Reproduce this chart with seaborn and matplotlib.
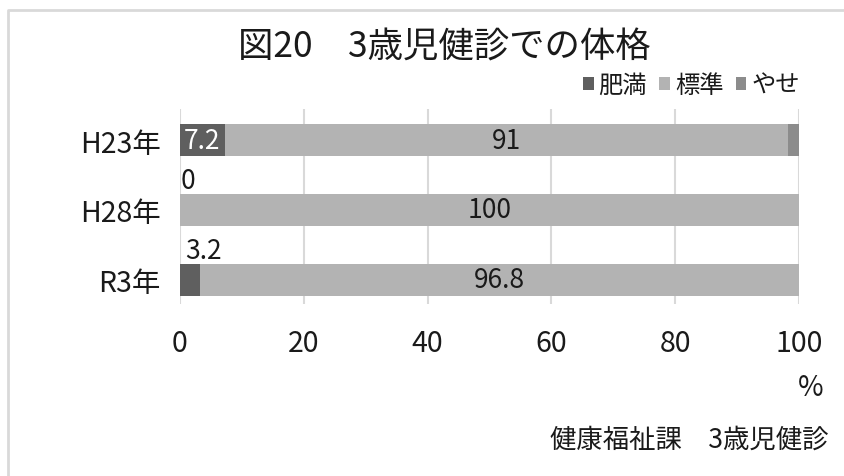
import numpy as np
import pandas as pd
import matplotlib
matplotlib.use("Agg")
import matplotlib.pyplot as plt
from matplotlib.lines import Line2D
from matplotlib.patches import Patch
import seaborn as sns

# Data
categories = ["H23年", "H28年", "R3年"]
series_names = ["肥満", "標準", "やせ"]
obese = [7.2, 0, 3.2]
normal = [91, 100, 96.8]
thin = [1.8, 0, 0]
colors = ["#5f5f5f", "#b3b3b3", "#8c8c8c"]
xticks = [0, 20, 40, 60, 80, 100]

title = "図20　3歳児健診での体格"
source = "健康福祉課　3歳児健診"

sns.set_theme(style="white")
plt.rcParams["font.family"] = ["Noto Sans CJK JP", "DejaVu Sans"]

W, H = 845, 477
fig = plt.figure(figsize=(W / 100, H / 100), dpi=100)

# Plot area in pixel coordinates
left_px, right_px, top_px, bottom_px = 180, 799, 110, 305
ax = fig.add_axes([left_px / W, 1 - bottom_px / H,
                   (right_px - left_px) / W, (bottom_px - top_px) / H])

df = pd.DataFrame({"cat": categories, "obese": obese,
                   "normal": normal, "thin": thin})
df["c1"] = df["obese"]
df["c2"] = df["obese"] + df["normal"]
df["c3"] = df["c2"] + df["thin"]

bar_h = 0.457
# Stacked bars drawn as overlapping cumulative totals, widest first
for col, c in [("c3", colors[2]), ("c2", colors[1]), ("c1", colors[0])]:
    sns.barplot(data=df, x=col, y="cat", orient="h", color=c,
                width=bar_h, linewidth=0, saturation=1, ax=ax, zorder=3)

ax.set_xlim(0, 100)
ax.set_ylim(2.343, -0.443)
ax.set_xticks(xticks)
ax.set_xticklabels([str(t) for t in xticks])
ax.set_xlabel("")
ax.set_ylabel("")
for s in ax.spines.values():
    s.set_visible(False)
ax.grid(axis="x", color="#d9d9d9", linewidth=1.5, zorder=0)
ax.grid(axis="y", visible=False)
ax.tick_params(axis="x", length=0, pad=17, labelsize=20.5, colors="#1a1a1a")
ax.tick_params(axis="y", length=0, pad=14, labelsize=20.5, colors="#1a1a1a")

# Value labels
lab_fs = 19
for i in range(len(categories)):
    o, n, t = obese[i], normal[i], thin[i]
    if o >= 5:
        ax.text(o / 2, i, f"{o:g}", ha="center", va="center",
                color="white", fontsize=lab_fs, zorder=5)
    else:
        ax.text(o / 4 + 0.1, i - bar_h / 2 - 0.19, f"{o:g}", ha="left",
                va="center", color="#1a1a1a", fontsize=lab_fs, zorder=5)
    ax.text(o + n / 2, i, f"{n:g}", ha="center", va="center",
            color="#1a1a1a", fontsize=lab_fs, zorder=5)

# Title, legend, unit and source
fig.text(444 / W, 1 - 48 / H, title, ha="center", va="center",
         fontsize=25.5, color="#1a1a1a")
handles = [Patch(facecolor=c, edgecolor="none") for c in colors]
fig.legend(handles, series_names, loc="center right",
           bbox_to_anchor=(812 / W, 1 - 86 / H), ncol=3, frameon=False,
           fontsize=17.5, handlelength=0.45, handleheight=0.45,
           handletextpad=0.2, columnspacing=0.5, borderpad=0,
           labelcolor="#1a1a1a")
fig.text(811 / W, 1 - 388 / H, "%", ha="center", va="center",
         fontsize=20, color="#1a1a1a")
fig.text(829 / W, 1 - 440 / H, source, ha="right", va="center",
         fontsize=19, color="#1a1a1a")

# Chart frame
fig.add_artist(Line2D([8 / W, 8 / W, 1.0], [0.0, 1 - 11 / H, 1 - 11 / H],
                      transform=fig.transFigure, color="#d9d9d9",
                      linewidth=2))

fig.savefig("out.png", dpi=100, facecolor="white")
